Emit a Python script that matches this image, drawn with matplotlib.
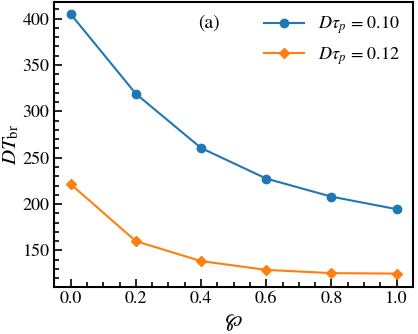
import matplotlib
matplotlib.use('Agg')
import matplotlib.pyplot as plt
from matplotlib.ticker import MultipleLocator

plt.rcParams['font.family'] = 'STIXGeneral'
plt.rcParams['mathtext.fontset'] = 'stix'

# values
phi = [0.0, 0.2, 0.4, 0.6, 0.8, 1.0]
dt_010 = [405, 319, 260.5, 227.5, 208, 194.5]
dt_012 = [221.5, 160, 138.5, 129, 125.5, 125]

fig, ax = plt.subplots(figsize=(4.18, 3.34), dpi=100)

ax.plot(phi, dt_010, color='tab:blue', marker='o', ms=6, lw=1.5,
        label=r'$D\tau_p$ = 0.10')
ax.plot(phi, dt_012, color='tab:orange', marker='D', ms=5, lw=1.5,
        label=r'$D\tau_p$ = 0.12')

ax.set_xlim(-0.05, 1.05)
ax.set_ylim(111, 418)
ax.xaxis.set_major_locator(MultipleLocator(0.2))
ax.xaxis.set_minor_locator(MultipleLocator(0.05))
ax.yaxis.set_major_locator(MultipleLocator(50))
ax.yaxis.set_minor_locator(MultipleLocator(10))
ax.tick_params(which='both', direction='in', labelsize=13, width=1.2)
ax.tick_params(which='major', length=6)
ax.tick_params(which='minor', length=3.5)
for s in ax.spines.values():
    s.set_linewidth(1.5)

ax.set_xlabel(r'$\wp$', fontsize=15)
ax.set_ylabel(r'$DT_{\rm br}$', fontsize=15, labelpad=1)
ax.text(0.40, 0.91, '(a)', transform=ax.transAxes, fontsize=14)
ax.legend(loc='upper right', frameon=False, fontsize=13,
          handlelength=2.2, borderaxespad=0.3)

fig.subplots_adjust(left=0.13, right=0.988, top=0.994, bottom=0.142)
fig.savefig('out.png')
